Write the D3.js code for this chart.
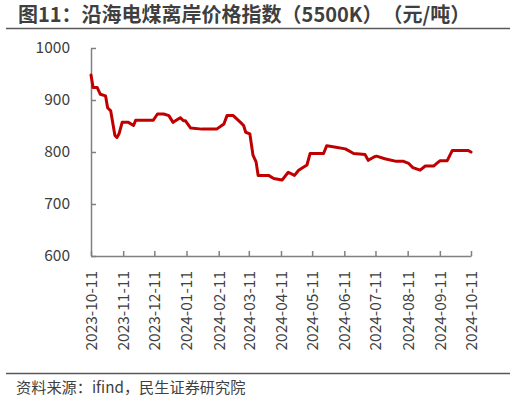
<!DOCTYPE html>
<html>
<head>
<meta charset="utf-8">
<script src="https://cdn.jsdelivr.net/npm/d3@7"></script>
<style>
  body { margin: 0; background: #fff; }
  svg { display: block; font-family: "Noto Sans CJK SC", "Noto Sans", sans-serif; }
  text { text-spacing-trim: space-all; font-feature-settings: "chws" 0, "halt" 0; }
</style>
</head>
<body>
<svg id="chart" width="516" height="401"></svg>
<script>
// 沿海电煤离岸价格指数（5500K），元/吨
var dates = [
  "2023-10-11", "2023-10-13", "2023-10-17", "2023-10-20", "2023-10-25", "2023-10-27",
  "2023-10-30", "2023-11-03", "2023-11-05", "2023-11-07", "2023-11-10", "2023-11-16",
  "2023-11-21", "2023-11-23", "2023-12-10", "2023-12-14", "2023-12-20", "2023-12-25",
  "2023-12-29", "2024-01-05", "2024-01-08", "2024-01-10", "2024-01-15", "2024-01-26",
  "2024-02-09", "2024-02-16", "2024-02-19", "2024-02-25", "2024-03-03", "2024-03-06",
  "2024-03-08", "2024-03-12", "2024-03-15", "2024-03-18", "2024-03-20", "2024-03-30",
  "2024-04-04", "2024-04-12", "2024-04-18", "2024-04-24", "2024-04-28", "2024-05-06",
  "2024-05-09", "2024-05-22", "2024-05-25", "2024-05-31", "2024-06-12", "2024-06-20",
  "2024-07-01", "2024-07-04", "2024-07-10", "2024-07-12", "2024-07-20", "2024-07-31",
  "2024-08-07", "2024-08-12", "2024-08-16", "2024-08-23", "2024-08-28", "2024-09-05",
  "2024-09-08", "2024-09-11", "2024-09-18", "2024-09-23", "2024-10-08", "2024-10-11"
];
var prices = [
  948, 924, 924, 911, 908, 885,
  879, 832, 828, 835, 857, 857,
  851, 861, 861, 873, 873, 870,
  857, 866, 860, 860, 846, 844,
  844, 854, 870, 870, 857, 851,
  838, 835, 794, 781, 755, 755,
  749, 746, 761, 755, 765, 775,
  797, 797, 812, 810, 806, 797,
  795, 784, 791, 792, 787, 782,
  782, 778, 770, 765, 773, 773,
  778, 783, 783, 803, 803, 800
];
var xTicks = [
  "2023-10-11", "2023-11-11", "2023-12-11", "2024-01-11", "2024-02-11", "2024-03-11",
  "2024-04-11", "2024-05-11", "2024-06-11", "2024-07-11", "2024-08-11", "2024-09-11",
  "2024-10-11"
];
var yTicks = [600, 700, 800, 900, 1000];

var title = "图11：沿海电煤离岸价格指数（5500K）（元/吨）";
var source = "资料来源：ifind，民生证券研究院";

var parse = d3.timeParse("%Y-%m-%d");
var fmt = d3.timeFormat("%Y-%m-%d");
var data = dates.map(function(d, i) { return {date: parse(d), value: prices[i]}; });

var svg = d3.select("#chart");
var textColor = "#404040";
var axisColor = "#808080";

// title + rule
svg.append("text")
  .attr("x", 18)
  .attr("y", 22)
  .attr("font-size", 20)
  .attr("font-weight", "bold")
  .attr("fill", "#3f3f3f")
  .text(title);

svg.append("line")
  .attr("x1", 6).attr("x2", 510)
  .attr("y1", 28.5).attr("y2", 28.5)
  .attr("stroke", "#595959")
  .attr("stroke-width", 1.5);

// scales
var x = d3.scaleTime()
  .domain([parse(xTicks[0]), parse(xTicks[xTicks.length - 1])])
  .range([91, 471]);

var y = d3.scaleLinear()
  .domain([600, 1000])
  .range([256, 48]);

// y axis, ticks pointing inward
var yAxis = svg.append("g")
  .attr("transform", "translate(" + x.range()[0] + ",0)")
  .call(d3.axisLeft(y)
    .tickValues(yTicks)
    .tickFormat(d3.format("d"))
    .tickSizeInner(-5)
    .tickSizeOuter(0)
    .tickPadding(21));

// x axis, ticks pointing up
var xAxis = svg.append("g")
  .attr("transform", "translate(0," + y.range()[0] + ")")
  .call(d3.axisBottom(x)
    .tickValues(xTicks.map(parse))
    .tickFormat(fmt)
    .tickSizeInner(-5)
    .tickSizeOuter(0));

[yAxis, xAxis].forEach(function(g) {
  g.select(".domain").attr("stroke", axisColor).attr("stroke-width", 1.5);
  g.selectAll(".tick line").attr("stroke", axisColor).attr("stroke-width", 1.5);
  g.selectAll(".tick text")
    .attr("fill", textColor)
    .attr("font-size", 15.5)
    .attr("font-family", "\"Noto Sans CJK SC\", \"Noto Sans\", sans-serif");
});

xAxis.selectAll(".tick text")
  .attr("transform", "rotate(-90)")
  .attr("text-anchor", "end")
  .attr("x", -15)
  .attr("y", 0)
  .attr("dy", "0.35em");

// price line
var line = d3.line()
  .x(function(d) { return x(d.date); })
  .y(function(d) { return y(d.value); });

svg.append("path")
  .datum(data)
  .attr("d", line)
  .attr("fill", "none")
  .attr("stroke", "#C00000")
  .attr("stroke-width", 3)
  .attr("stroke-linejoin", "round")
  .attr("stroke-linecap", "round");

// footer
svg.append("line")
  .attr("x1", 6).attr("x2", 510)
  .attr("y1", 373.5).attr("y2", 373.5)
  .attr("stroke", "#595959")
  .attr("stroke-width", 1.5);

svg.append("text")
  .attr("x", 16)
  .attr("y", 393)
  .attr("font-size", 15.2)
  .attr("fill", textColor)
  .text(source);
</script>
</body>
</html>
